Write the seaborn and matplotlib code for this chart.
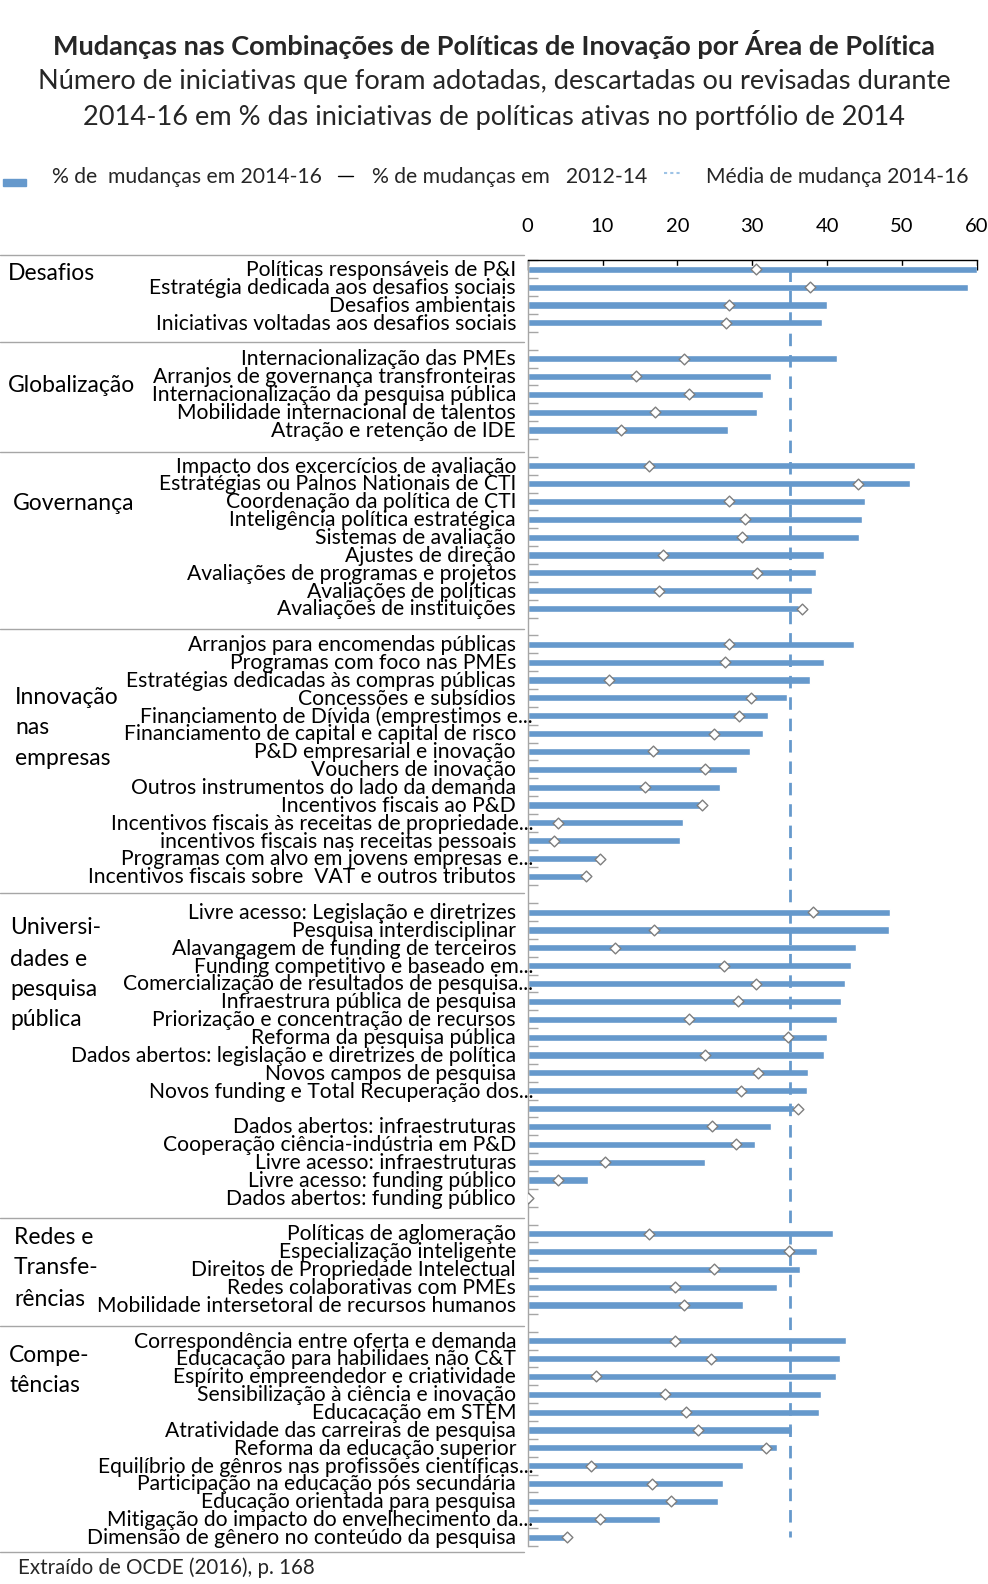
import matplotlib
matplotlib.use("Agg")
import matplotlib.pyplot as plt
import matplotlib.transforms as mtransforms
from matplotlib.lines import Line2D
from matplotlib.patches import Rectangle
import seaborn as sns
import numpy as np
import pandas as pd

# ---------------- data ----------------
groups = ["Desafios", "Globalização", "Governança", "Innovação nas empresas",
          "Universidades e pesquisa pública", "Redes e Transferências", "Competências"]

labels_des = ["Políticas responsáveis de P&I", "Estratégia dedicada aos desafios sociais",
              "Desafios ambientais", "Iniciativas voltadas aos desafios sociais"]
chg1416_des = [60.0, 58.8, 40.0, 39.3]
chg1214_des = [30.5, 37.7, 26.9, 26.5]

labels_glo = ["Internacionalização das PMEs", "Arranjos de governança transfronteiras",
              "Internacionalização da pesquisa pública", "Mobilidade internacional de talentos",
              "Atração e retenção de IDE"]
chg1416_glo = [41.3, 32.5, 31.4, 30.6, 26.8]
chg1214_glo = [20.9, 14.5, 21.6, 17.0, 12.5]

labels_gov = ["Impacto dos excercícios de avaliação", "Estratégias ou Palnos Nationais de CTI",
              "Coordenação da política de CTI", "Inteligência política estratégica",
              "Sistemas de avaliação", "Ajustes de direção", "Avaliações de programas e projetos",
              "Avaliações de políticas", "Avaliações de instituições"]
chg1416_gov = [51.8, 51.1, 45.1, 44.7, 44.3, 39.6, 38.5, 38.0, 36.3]
chg1214_gov = [16.2, 44.1, 26.9, 29.0, 28.7, 18.1, 30.6, 17.6, 36.7]

labels_inn = ["Arranjos para encomendas públicas", "Programas com foco nas PMEs",
              "Estratégias dedicadas às compras públicas", "Concessões e subsídios",
              "Financiamento de Dívida (emprestimos e...",
              "Financiamento de capital e capital de risco", "P&D empresarial e inovação",
              "Vouchers de inovação", "Outros instrumentos do lado da demanda",
              "Incentivos fiscais ao P&D", "Incentivos fiscais às receitas de propriedade...",
              "incentivos fiscais nas receitas pessoais",
              "Programas com alvo em jovens empresas e...",
              "Incentivos fiscais sobre  VAT e outros tributos"]
chg1416_inn = [43.6, 39.6, 37.7, 34.7, 32.1, 31.4, 29.7, 28.0, 25.7, 23.3, 20.8, 20.4, 9.7, 7.8]
chg1214_inn = [26.9, 26.4, 10.9, 29.8, 28.2, 24.9, 16.7, 23.7, 15.7, 23.3, 4.0, 3.5, 9.7, 7.8]

labels_uni = ["Livre acesso: Legislação e diretrizes", "Pesquisa interdisciplinar",
              "Alavangagem de funding de terceiros", "Funding competitivo e baseado em...",
              "Comercialização de resultados de pesquisa...", "Infraestrura pública de pesquisa",
              "Priorização e concentração de recursos", "Reforma da pesquisa pública",
              "Dados abertos: legislação e diretrizes de política", "Novos campos de pesquisa",
              "Novos funding e Total Recuperação dos...", "",
              "Dados abertos: infraestruturas", "Cooperação ciência-indústria em P&D",
              "Livre acesso: infraestruturas", "Livre acesso: funding público",
              "Dados abertos: funding público"]
chg1416_uni = [48.4, 48.3, 43.9, 43.2, 42.4, 41.9, 41.3, 40.0, 39.6, 37.5, 37.3, 35.6,
               32.5, 30.4, 23.7, 8.1, 0.0]
chg1214_uni = [38.1, 16.9, 11.7, 26.2, 30.5, 28.1, 21.6, 34.8, 23.7, 30.8, 28.5, 36.1,
               24.6, 27.8, 10.3, 4.0, 0.0]

labels_red = ["Políticas de aglomeração", "Especialização inteligente",
              "Direitos de Propriedade Intelectual", "Redes colaborativas com PMEs",
              "Mobilidade intersetoral de recursos humanos"]
chg1416_red = [40.8, 38.7, 36.4, 33.3, 28.8]
chg1214_red = [16.2, 34.9, 24.9, 19.7, 20.9]

labels_com = ["Correspondência entre oferta e demanda", "Educacação para habilidaes não C&T",
              "Espírito empreendedor e criatividade", "Sensibilização à ciência e inovação",
              "Educacação em STEM", "Atratividade das carreiras de pesquisa",
              "Reforma da educação superior", "Equilíbrio de gênros nas profissões científicas...",
              "Participação na educação pós secundária", "Educação orientada para pesquisa",
              "Mitigação do impacto do envelhecimento da...",
              "Dimensão de gênero no conteúdo da pesquisa"]
chg1416_com = [42.5, 41.7, 41.2, 39.2, 38.9, 35.3, 33.3, 28.8, 26.1, 25.4, 17.7, 5.3]
chg1214_com = [19.7, 24.5, 9.1, 18.4, 21.1, 22.7, 31.8, 8.4, 16.6, 19.2, 9.6, 5.3]

mean_change_1416 = 35.1
x_ticks = [0, 10, 20, 30, 40, 50, 60]

title = "Mudanças nas Combinações de Políticas de Inovação por Área de Política"
subtitle1 = "Número de iniciativas que foram adotadas, descartadas ou revisadas durante"
subtitle2 = "2014-16 em % das iniciativas de políticas ativas no portfólio de 2014"
legend_labels = ["% de  mudanças em 2014-16", "% de mudanças em   2012-14", "Média de mudança 2014-16"]
source = "Extraído de OCDE (2016), p. 168"

# ---------------- build table ----------------
blocks = [(labels_des, chg1416_des, chg1214_des), (labels_glo, chg1416_glo, chg1214_glo),
          (labels_gov, chg1416_gov, chg1214_gov), (labels_inn, chg1416_inn, chg1214_inn),
          (labels_uni, chg1416_uni, chg1214_uni), (labels_red, chg1416_red, chg1214_red),
          (labels_com, chg1416_com, chg1214_com)]
rows = []
pos = 0
for g, (labs, a, b) in zip(groups, blocks):
    for l, v1, v2 in zip(labs, a, b):
        rows.append(dict(group=g, label=l, v1416=v1, v1214=v2, pos=pos))
        pos += 1
    pos += 1  # blank separator row
n_rows = pos - 1
df = pd.DataFrame(rows)

# ---------------- styling ----------------
sns.set_theme(style="white")
plt.rcParams["font.family"] = ["Lato", "DejaVu Sans"]
BLUE = "#6699CC"
GRAY = "#A6A6A6"

W, H = 988, 1584
fig = plt.figure(figsize=(W / 100, H / 100), dpi=100)


def fx(px):
    return px / W


def fy(py):
    return 1 - py / H


ax_top, ax_bot, ax_left, ax_right = 260.4, 1546.0, 527.7, 976.7
ax = fig.add_axes([fx(ax_left), fy(ax_bot), (ax_right - ax_left) / W, (ax_bot - ax_top) / H])

sns.barplot(data=df, x="v1416", y="pos", orient="h", native_scale=True, color=BLUE,
            saturation=1, width=0.4, errorbar=None, ax=ax, zorder=2)
ax.vlines(mean_change_1416, df["pos"].min(), df["pos"].max(), colors=BLUE,
          linestyles=(0, (4.5, 3.2)), linewidth=2.0, zorder=3)
sns.scatterplot(data=df, x="v1214", y="pos", marker="D", s=30, color="white",
                edgecolor="#7F7F7F", linewidth=1.0, zorder=4, ax=ax, legend=False)

ax.set_xlim(0, 60)
ax.set_ylim(n_rows - 0.5, -0.5)
ax.set_xlabel("")
ax.set_ylabel("")
ax.xaxis.tick_top()
ax.set_xticks(x_ticks)
ax.set_xticklabels([str(t) for t in x_ticks])
ax.tick_params(axis="x", which="major", direction="in", length=7, width=1, color="black",
               top=True, bottom=False, labeltop=True, labelbottom=False, pad=18,
               labelsize=14.5, labelcolor="black")
ax.set_yticks([])
ax.set_yticks(np.arange(-0.5, n_rows, 1), minor=True)
ax.tick_params(axis="y", which="minor", direction="in", length=7, width=1, color=GRAY,
               left=True, labelleft=False)
for s in ["right", "bottom"]:
    ax.spines[s].set_visible(False)
ax.spines["top"].set_color("black")
ax.spines["top"].set_linewidth(1)
ax.spines["left"].set_color(GRAY)
ax.spines["left"].set_linewidth(1)
ax.grid(False)

# category labels
trans = mtransforms.blended_transform_factory(fig.transFigure, ax.transData)
for _, r in df.iterrows():
    xr = 533 if r["label"].endswith("...") else 516
    ax.text(fx(xr), r["pos"] + 0.05, r["label"], ha="right", va="center", fontsize=15.2,
            color="black", transform=trans, clip_on=False)

# group labels (stacked as in the source)
group_text = [
    (8, [(273, "Desafios")]),
    (8, [(385, "Globalização")]),
    (13, [(504, "Governança")]),
    (15, [(698, "Innovação"), (728, "nas"), (758, "empresas")]),
    (10, [(928, "Universi-"), (959, "dades e"), (989, "pesquisa"), (1019, "pública")]),
    (14, [(1238, "Redes e"), (1268, "Transfe-"), (1299, "rências")]),
    (9, [(1356, "Compe-"), (1386, "tências")]),
]
for x0, lines in group_text:
    for y0, t in lines:
        fig.text(fx(x0), fy(y0), t, ha="left", va="center", fontsize=16.5, color="black")

# group separator lines
for ysep in [255, 342, 452, 629, 893, 1218, 1326, 1552]:
    fig.add_artist(Line2D([fx(0), fx(524)], [fy(ysep), fy(ysep)], color=GRAY, lw=1))

# titles
fig.text(0.5, fy(44.5), title, ha="center", va="center", fontsize=19.5, fontweight="bold")
fig.text(0.5, fy(81), subtitle1, ha="center", va="center", fontsize=19.6)
fig.text(0.5, fy(117), subtitle2, ha="center", va="center", fontsize=19.6)

# legend
fig.add_artist(Rectangle((fx(3), fy(186)), fx(23), 7 / H, color=BLUE, transform=fig.transFigure))
fig.text(fx(52), fy(177), legend_labels[0], ha="left", va="center", fontsize=15.2)
fig.add_artist(Line2D([fx(338), fx(353)], [fy(176), fy(176)], color="black", lw=1))
fig.text(fx(372), fy(177), legend_labels[1], ha="left", va="center", fontsize=15.2)
fig.add_artist(Line2D([fx(664), fx(680)], [fy(173), fy(173)], color="#9DC3E6", lw=1.5,
                      linestyle=(0, (1.5, 1.5))))
fig.text(fx(706), fy(177), legend_labels[2], ha="left", va="center", fontsize=15.2)

# source
fig.text(fx(18), fy(1568), source, ha="left", va="center", fontsize=14.8)

fig.savefig("out.png", dpi=100)
